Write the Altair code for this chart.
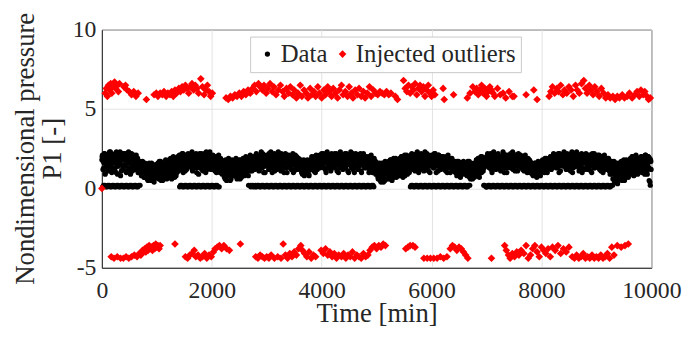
import altair as alt
import numpy as np
import pandas as pd

# ---------------- data ----------------
SAMPLE_MIN = 10  # each list is sampled every 10 min; list B is offset by 5 min

data_p1_a = [
    1.8,2.1,1.2,0.2,1.6,2.2,0.9,0.1,1.9,1.4,2.0,0.2,1.1,1.7,2.3,0.1,1.5,2.0,1.0,0.2,
    2.1,1.3,1.8,0.1,2.2,1.6,1.0,0.2,1.9,2.0,1.4,0.1,1.7,2.3,0.8,0.2,1.5,1.9,1.2,0.1,
    1.9,1.5,2.2,0.2,1.1,1.8,2.0,0.1,1.6,1.3,2.1,0.2,0.9,1.7,2.2,0.1,1.4,2.0,1.6,0.2,
    1.8,1.2,2.0,0.1,1.5,1.9,1.0,0.2,1.7,1.4,1.1,1.6,0.8,1.3,1.7,0.9,1.5,1.2,0.7,1.4,
    1.3,0.8,1.5,1.0,0.5,1.2,1.6,0.7,1.1,1.4,0.9,0.6,1.3,1.5,1.0,0.4,1.2,0.8,1.4,1.1,
    1.4,0.9,1.6,1.2,0.6,1.3,1.0,1.7,0.5,1.5,1.1,0.8,1.4,1.6,0.7,1.2,1.8,1.0,0.6,1.3,
    1.5,1.1,1.8,0.7,1.4,1.9,1.2,0.6,1.6,1.3,2.0,0.9,1.5,1.7,1.1,0.8,1.9,1.4,2.0,1.2,
    1.7,2.1,1.3,0.2,1.9,1.5,2.2,0.1,1.0,1.8,1.4,0.2,2.0,1.6,1.2,0.1,1.9,2.2,1.5,0.2,
    2.0,1.4,1.8,0.1,2.3,1.1,1.7,0.2,1.9,1.5,2.1,0.1,1.3,2.0,1.6,0.2,0.9,1.8,2.2,0.1,
    1.6,2.2,1.2,0.2,1.9,1.4,2.0,0.1,1.7,1.0,2.3,0.2,1.5,1.8,1.3,0.1,2.1,1.6,1.9,0.2,
    1.8,1.3,2.1,0.1,1.5,1.9,1.1,0.2,2.0,1.6,1.2,0.1,1.8,1.4,1.7,1.0,1.9,1.3,1.6,0.9,
    1.5,1.1,1.7,0.7,1.3,1.8,1.0,0.5,1.6,1.2,1.4,0.8,1.7,1.1,1.5,0.6,1.3,1.8,0.9,1.4,
    1.2,1.6,0.8,1.4,1.9,1.0,0.6,1.5,1.3,1.7,0.9,1.2,1.8,1.4,0.7,1.6,1.1,1.9,1.3,1.0,
    1.7,1.3,2.0,0.9,1.5,1.8,1.2,0.2,1.9,1.4,2.1,0.1,1.6,1.1,1.8,0.2,2.0,1.5,1.3,0.1,
    1.9,2.2,1.4,0.2,1.7,2.0,1.1,0.1,1.8,1.5,2.3,0.2,1.3,1.9,1.6,0.1,2.1,1.0,1.8,0.2,
    2.0,1.5,1.8,0.1,2.2,1.3,1.9,0.2,1.6,2.1,1.0,0.1,1.8,1.4,2.2,0.2,1.7,2.0,1.2,0.1,
    1.8,2.3,1.4,0.2,2.0,1.6,1.1,0.1,1.9,1.5,2.1,0.2,1.3,1.8,2.2,0.1,1.6,1.0,1.9,0.2,
    2.1,1.4,1.7,0.1,1.9,1.2,2.0,0.2,1.5,1.8,1.1,0.1,2.1,1.6,1.3,0.2,1.8,1.5,1.9,0.1,
    1.6,1.2,1.8,0.2,1.4,0.9,1.7,0.1,1.3,1.5,1.0,0.2,1.6,1.2,1.8,0.1,1.4,0.8,1.7,0.2,
    1.8,1.3,2.0,0.1,1.5,1.9,1.1,0.2,1.7,1.4,2.1,0.1,1.2,1.8,1.6,0.2,2.0,1.3,1.9,0.1,
    2.2,1.6,1.9,0.2,1.3,2.1,1.7,0.1,1.0,1.8,2.3,0.2,1.5,2.0,1.4,0.1,1.9,1.2,2.2,0.2,
    1.7,2.0,1.4,0.1,2.2,1.5,1.9,0.2,1.1,1.8,2.1,0.1,1.6,1.3,2.3,0.2,1.9,1.5,1.8,0.1,
    2.1,1.5,1.8,0.2,1.3,2.2,1.6,0.1,2.0,1.0,1.9,0.2,1.7,2.3,1.4,0.1,1.8,1.2,2.1,0.2,
    1.9,1.4,2.2,0.1,1.6,2.0,1.2,0.2,1.8,1.5,2.1,0.1,1.1,1.9,1.7,0.2,2.2,1.4,1.8,0.1,
    1.8,1.3,2.0,0.2,1.5,1.9,1.0,0.1,1.7,1.4,2.1,0.2,1.2,1.6,1.9,0.1,1.4,1.0,1.7,1.2,
    1.4,0.9,1.6,0.6,1.2,1.5,0.8,1.3,0.4,1.1,1.6,0.7,1.4,1.0,1.5,0.5,1.2,0.9,1.6,1.1,
    1.5,1.0,1.7,0.6,1.3,1.8,0.9,1.4,0.5,1.6,1.2,1.9,0.8,1.5,1.1,1.7,0.7,1.4,1.8,1.0,
    1.7,1.2,1.9,0.8,1.5,2.0,1.1,1.6,0.7,1.8,1.3,2.1,1.0,1.7,1.4,1.9,0.9,1.6,2.0,1.2,
    2.0,1.5,1.8,0.2,2.2,1.3,1.9,0.1,1.6,2.1,1.1,0.2,1.8,1.4,2.3,0.1,1.7,2.0,1.2,0.2,
    1.9,2.2,1.4,0.1,1.7,2.0,1.1,0.2,2.3,1.6,1.8,0.1,1.3,1.9,2.1,0.2,1.5,1.0,1.8,0.1,
    2.1,1.6,1.9,0.2,1.3,2.2,1.7,0.1,2.0,1.4,1.8,0.2,1.1,2.1,1.5,0.1,1.9,1.3,2.0,0.2,
    1.8,1.4,2.0,0.1,1.6,1.9,1.1,0.2,1.7,1.3,2.1,0.1,1.5,1.8,1.0,0.2,1.6,1.9,1.3,0.1,
    1.6,1.1,1.7,0.2,1.3,1.5,0.8,0.1,1.4,1.7,1.0,0.2,1.5,1.2,1.6,0.1,0.9,1.4,1.7,0.2,
    1.3,1.6,0.9,0.1,1.5,1.1,1.7,0.2,1.2,0.7,1.4,0.6,1.6,1.0,1.3,0.8,1.5,1.2,0.7,1.4,
    1.6,1.1,1.8,0.8,1.4,1.9,1.2,0.7,1.7,1.3,2.0,1.0,1.5,1.8,1.1,0.2,1.9,1.4,1.6,0.1,
    2.0,1.5,2.2,0.2,1.7,1.3,1.9,0.1,2.1,1.6,1.0,0.2,1.8,2.3,1.4,0.1,1.9,1.2,2.0,0.2,
    1.8,2.2,1.4,0.1,2.0,1.6,1.1,0.2,1.9,1.5,2.3,0.1,1.3,1.8,2.1,0.2,1.6,1.0,1.9,0.1,
    2.1,1.5,1.8,0.2,2.2,1.3,1.7,0.1,2.0,1.4,1.9,0.2,1.1,2.1,1.6,0.1,1.8,1.4,2.2,0.2,
    1.9,1.4,2.1,0.1,1.6,2.0,1.2,0.2,1.8,1.5,1.9,0.1,1.3,1.7,1.0,0.2,1.6,1.4,1.8,0.1,
    1.5,1.1,1.6,0.2,1.3,0.8,1.5,0.1,1.2,1.6,0.9,0.2,1.4,1.0,1.7,0.1,1.3,1.5,0.8,0.2,
    1.6,1.2,1.8,0.1,1.4,1.0,1.7,0.2,1.3,1.9,1.1,0.1,1.6,1.4,1.8,0.2,1.5,2.0,1.2,0.1,
    2.0,1.6,2.2,0.2,1.4,1.9,1.7,0.1,2.1,1.3,1.8,0.2,1.0,2.2,1.5,0.1,1.9,1.6,2.0,0.2,
    1.8,2.3,1.5,0.1,2.0,1.2,1.9,0.2,1.7,2.1,1.4,0.1,1.8,1.1,2.2,0.2,1.6,1.9,1.3,0.1,
    2.1,1.5,1.9,0.2,2.3,1.4,1.7,0.1,2.0,1.2,1.8,0.2,1.5,2.2,1.0,0.1,1.9,1.6,2.1,0.2,
    1.9,2.2,1.3,0.1,1.8,1.6,2.0,0.2,1.4,2.1,1.1,0.1,1.7,1.9,1.5,0.2,2.2,1.3,1.8,0.1,
    2.0,1.4,1.9,0.2,1.6,2.1,1.2,0.1,1.8,1.5,2.0,0.2,1.0,1.7,1.3,0.1,1.9,1.6,1.2,0.2,
    1.7,1.2,1.9,0.1,1.4,0.9,1.6,0.2,1.1,1.5,0.6,1.3,1.7,0.4,1.0,1.4,0.8,1.6,1.2,0.5,
    1.4,0.9,1.6,1.1,0.6,1.3,1.7,0.8,1.5,1.0,1.8,0.5,1.2,1.6,0.9,1.4,1.1,1.7,0.7,1.3,
    1.6,1.2,1.9,0.9,1.5,2.0,1.1,1.7,0.8,1.4,1.8,1.0,2.1,1.3,1.6,0.9,1.9,1.2,1.7,1.5,
    1.8,1.3,2.0,1.0,1.6,1.9,1.2,1.7,0.9,2.1,1.4,1.8,1.1,1.6,2.0,1.3,0.5,1.9,0.2,1.7,
]

data_p1_b = [
    2.0,0.1,1.7,1.3,2.2,0.2,1.0,1.8,1.5,0.1,2.1,1.2,1.9,0.2,1.6,2.3,1.3,0.1,1.8,1.1,
    1.6,0.2,2.0,1.2,1.8,0.1,2.3,1.4,0.9,0.2,1.7,2.1,1.5,0.1,1.9,1.1,2.2,0.2,1.4,1.8,
    2.2,0.1,1.4,1.8,1.0,0.2,1.9,1.6,2.3,0.1,1.2,1.7,2.0,0.2,1.5,1.1,1.8,0.1,2.1,1.3,
    1.6,0.2,2.1,1.3,1.9,0.1,1.0,1.7,1.4,0.2,1.2,1.5,0.9,1.6,1.1,1.4,0.7,1.3,1.6,1.0,
    1.1,1.4,0.6,1.2,0.9,1.5,0.7,1.3,1.0,0.5,1.6,1.2,0.8,1.4,1.1,0.6,1.3,0.9,1.5,0.7,
    1.2,0.7,1.5,1.0,1.7,0.6,1.3,0.9,1.4,1.1,0.5,1.6,1.2,0.8,1.5,1.0,1.3,0.7,1.7,1.1,
    1.3,1.7,0.9,1.5,1.1,1.8,0.8,1.4,1.9,1.0,1.6,1.3,0.7,1.7,1.2,1.9,1.0,1.5,1.8,1.1,
    1.9,0.1,1.5,2.0,1.2,0.2,1.7,2.2,1.4,0.1,1.8,1.1,2.1,0.2,1.6,1.3,2.0,0.1,1.7,1.4,
    1.5,0.2,2.1,1.7,1.2,0.1,2.0,1.6,1.9,0.2,1.4,2.2,1.0,0.1,1.8,1.5,2.1,0.2,1.3,1.7,
    2.0,0.1,1.5,1.8,1.1,0.2,2.2,1.4,1.9,0.1,1.6,1.2,2.0,0.2,1.8,1.4,2.3,0.1,1.2,1.7,
    1.6,0.2,1.9,1.2,2.0,0.1,1.4,1.7,1.0,0.2,1.8,1.5,2.1,0.1,1.3,1.6,1.1,1.8,1.4,1.0,
    1.3,1.6,0.9,1.4,0.6,1.7,1.2,1.5,0.8,1.3,1.9,1.0,1.6,0.5,1.4,1.1,1.7,0.8,1.5,1.2,
    1.5,0.9,1.3,1.7,1.1,0.7,1.6,1.2,1.8,1.0,1.4,0.6,1.5,1.1,1.7,0.9,1.4,1.2,1.6,0.8,
    1.4,1.8,1.0,1.6,1.2,1.9,0.8,1.5,1.7,1.1,2.0,0.2,1.6,1.3,1.9,0.1,1.4,1.8,1.2,0.2,
    1.6,0.1,2.0,1.4,1.8,0.2,1.2,2.1,1.7,0.1,1.9,1.5,2.2,0.2,1.0,1.8,1.4,0.1,2.0,1.6,
    1.7,0.2,2.1,1.2,1.9,0.1,1.5,2.3,1.3,0.2,1.8,1.6,2.0,0.1,1.1,1.9,1.5,0.2,2.1,1.4,
    2.0,0.1,1.5,1.9,1.2,0.2,2.2,1.7,1.4,0.1,2.0,1.0,1.8,0.2,1.6,2.1,1.3,0.1,1.9,1.5,
    1.6,0.2,2.0,1.3,1.8,0.1,1.5,2.2,1.0,0.2,1.7,1.9,1.4,0.1,2.0,1.2,1.6,0.2,1.8,1.3,
    1.4,0.1,1.7,1.0,1.5,0.2,1.2,1.8,0.8,0.1,1.6,1.3,1.1,0.2,1.7,1.4,0.9,0.1,1.5,1.2,
    1.6,0.2,1.9,1.2,1.7,0.1,2.0,1.4,1.0,0.2,1.8,1.5,1.3,0.1,1.9,1.6,2.1,0.2,1.4,1.7,
    1.9,0.1,1.4,2.2,1.7,0.2,1.2,2.0,1.6,0.1,1.9,1.3,2.1,0.2,1.5,1.8,1.1,0.1,2.0,1.6,
    2.1,0.2,1.6,1.9,1.3,0.1,2.2,1.5,1.8,0.2,1.0,2.0,1.7,0.1,1.4,2.1,1.6,0.2,1.2,1.9,
    1.8,0.1,2.2,1.4,1.9,0.2,1.6,1.1,2.1,0.1,1.5,1.8,2.0,0.2,1.3,1.7,2.2,0.1,1.5,1.0,
    2.0,0.2,1.6,1.9,1.3,0.1,2.1,1.7,1.4,0.2,2.2,1.5,1.0,0.1,1.8,2.0,1.6,0.2,1.3,1.9,
    1.6,0.1,1.9,1.3,1.7,0.2,2.0,1.1,1.5,0.1,1.8,1.4,1.0,0.2,1.7,1.9,1.2,1.5,0.9,1.6,
    1.2,1.5,0.7,1.3,1.0,1.6,0.5,1.4,1.1,0.8,1.5,1.2,0.4,1.3,0.9,1.7,1.0,1.4,0.6,1.2,
    1.3,1.6,0.8,1.5,1.1,1.8,0.6,1.4,1.0,1.7,1.2,0.7,1.6,1.3,1.9,0.9,1.5,1.1,1.7,0.8,
    1.5,1.8,1.0,1.6,1.3,2.0,0.9,1.7,1.2,1.9,1.4,0.8,1.8,1.5,2.1,1.1,1.7,1.3,1.9,1.0,
    1.7,0.1,2.1,1.4,1.9,0.2,1.2,2.0,1.6,0.1,1.8,1.3,2.2,0.2,1.5,1.9,1.0,0.1,2.1,1.6,
    2.1,0.2,1.6,1.8,1.2,0.1,2.0,1.5,1.9,0.2,1.4,2.2,1.7,0.1,1.1,1.8,2.0,0.2,1.4,1.7,
    1.8,0.1,2.0,1.3,1.7,0.2,2.2,1.5,1.0,0.1,1.9,1.6,2.1,0.2,1.4,1.8,1.2,0.1,2.0,1.5,
    1.6,0.2,1.9,1.2,1.8,0.1,1.4,2.0,1.0,0.2,1.7,1.5,1.9,0.1,1.3,1.6,1.8,0.2,1.1,1.5,
    1.4,0.1,1.6,1.0,1.3,0.2,1.7,0.9,1.5,0.1,1.2,1.6,0.7,0.2,1.4,1.1,1.5,0.1,1.0,1.3,
    1.5,0.2,1.2,1.6,0.8,0.1,1.4,1.0,1.7,0.2,1.3,0.9,1.5,1.1,0.6,1.4,1.2,1.6,0.9,1.3,
    1.4,1.8,1.0,1.6,1.3,1.9,0.9,1.5,1.2,1.7,1.4,2.0,1.1,1.6,1.8,1.3,0.2,1.7,1.5,0.1,
    1.8,0.1,2.1,1.4,1.9,0.2,1.6,2.2,1.2,0.1,2.0,1.5,1.8,0.2,1.3,2.1,1.7,0.1,1.5,1.9,
    2.1,0.2,1.5,1.9,1.2,0.1,2.0,1.7,1.4,0.2,2.2,1.6,1.0,0.1,1.9,1.5,2.1,0.2,1.3,1.8,
    1.7,0.1,2.0,1.3,1.9,0.2,1.5,2.3,1.2,0.1,1.8,1.6,2.1,0.2,1.4,1.9,1.1,0.1,2.0,1.6,
    1.6,0.2,1.9,1.3,2.0,0.1,1.5,1.8,1.1,0.2,2.1,1.4,1.7,0.1,1.2,1.9,1.5,0.2,1.0,1.7,
    1.3,0.1,1.5,0.9,1.4,0.2,1.1,1.6,1.0,0.1,1.3,0.7,1.5,0.2,1.2,1.4,0.9,0.1,1.6,1.1,
    1.4,0.2,1.7,1.1,1.5,0.1,1.9,1.2,1.6,0.2,1.0,1.8,1.3,0.1,1.7,1.5,2.0,0.2,1.3,1.6,
    1.8,0.1,2.1,1.5,1.9,0.2,1.3,2.0,1.7,0.1,2.2,1.4,1.8,0.2,1.1,2.0,1.6,0.1,1.9,1.4,
    2.1,0.2,1.6,1.9,1.3,0.1,2.2,1.5,1.8,0.2,1.2,2.0,1.7,0.1,1.5,2.3,1.0,0.2,1.8,1.4,
    1.7,0.1,2.0,1.4,2.2,0.2,1.6,1.9,1.1,0.1,2.1,1.5,1.8,0.2,1.3,2.0,1.7,0.1,1.2,1.9,
    2.0,0.2,1.5,1.9,1.2,0.1,2.1,1.7,1.4,0.2,1.9,1.0,2.2,0.1,1.6,1.8,1.3,0.2,2.0,1.5,
    1.7,0.1,2.1,1.3,1.8,0.2,1.5,2.0,1.1,0.1,1.9,1.6,1.4,0.2,2.1,1.2,1.7,0.1,1.5,1.9,
    1.5,0.2,1.8,1.1,1.6,0.1,1.3,1.7,0.9,0.2,1.4,1.0,1.6,0.5,1.2,0.7,1.5,1.1,0.3,1.3,
    1.2,1.6,0.7,1.4,1.0,1.7,0.5,1.3,0.9,1.5,1.1,0.6,1.6,1.2,1.8,0.8,1.4,1.0,1.5,0.9,
    1.4,1.8,1.0,1.7,1.3,2.0,1.1,1.5,1.9,0.9,1.6,1.3,2.0,1.2,1.8,1.0,1.5,1.7,1.1,1.9,
    1.6,2.0,1.1,1.8,1.4,1.9,1.0,1.7,1.5,2.1,1.2,1.8,0.9,1.5,2.0,1.3,1.7,0.4,1.8,1.2,
]
data_time_a = np.arange(len(data_p1_a)) * SAMPLE_MIN
data_time_b = np.arange(len(data_p1_b)) * SAMPLE_MIN + SAMPLE_MIN // 2

outliers_high = [
    (60,6.0),(80,6.3),(100,5.8),(120,6.5),(140,6.2),(160,6.6),(180,6.0),(200,6.4),(230,6.7),
    (250,6.3),(280,6.5),(300,6.1),(320,6.6),(400,6.4),(430,6.5),(460,6.2),(500,6.1),(540,5.9),
    (580,6.1),(620,5.8),(660,6.0),(810,5.6),
    (950,5.9),(990,6.0),(1020,5.8),(1060,6.0),(1100,5.9),(1130,6.1),(1170,5.8),(1200,6.0),
    (1240,5.9),(1270,6.1),(1300,5.8),(1330,6.2),(1360,6.0),(1400,6.3),(1430,6.1),(1460,6.4),
    (1490,6.2),(1520,6.5),(1550,6.3),(1580,6.0),(1610,6.4),(1640,6.6),(1670,6.2),(1700,6.5),
    (1730,6.3),(1760,6.0),(1800,6.9),(1830,6.4),(1860,5.9),(1890,6.2),(1920,6.5),(1950,6.1),
    (1980,5.8),(2010,6.0),
    (2260,5.7),(2300,5.6),(2340,5.8),(2380,5.7),(2420,5.9),(2460,5.8),(2500,6.0),(2540,5.8),
    (2580,6.1),(2620,5.9),(2660,6.2),(2700,6.0),(2740,6.3),(2780,6.5),(2810,6.1),(2850,6.6),
    (2880,6.4),(2920,6.2),(2950,6.5),(2990,6.0),(3020,6.3),(3060,6.6),(3100,6.1),(3130,6.4),
    (3170,5.9),(3210,6.2),(3250,6.5),(3290,6.1),(3320,5.8),(3360,6.3),(3400,6.0),(3430,6.4),
    (3470,5.9),(3500,6.2),(3540,5.7),(3570,6.0),(3610,6.5),(3640,5.8),(3680,6.2),(3720,6.0),
    (3750,5.7),(3790,6.3),(3820,5.9),(3860,6.1),(3890,5.8),(3930,6.4),(3960,6.0),(4000,5.7),
    (4040,6.2),(4070,5.9),(4110,6.4),(4140,6.1),(4180,5.8),(4210,6.3),(4250,6.0),(4290,5.7),
    (4320,6.2),(4360,6.5),(4390,5.9),(4430,6.1),(4470,5.8),(4500,6.4),(4540,6.0),(4570,5.7),
    (4610,6.2),(4650,5.9),(4680,6.3),(4720,5.8),(4760,6.1),(4790,5.7),(4830,6.0),(4870,6.4),
    (4900,5.8),(4940,6.2),(4980,6.0),(5020,5.9),(5060,6.1),(5100,6.0),(5140,5.9),(5180,6.1),
    (5220,5.9),(5260,6.0),(5340,5.8),(5380,5.6),
    (5490,6.8),(5520,6.3),(5550,6.1),(5580,6.5),(5610,6.0),(5640,6.4),(5670,6.2),(5700,6.6),
    (5730,5.9),(5760,6.3),(5790,6.5),(5820,6.1),(5850,6.4),(5880,5.8),(5910,6.2),(5940,6.5),
    (5970,6.0),(6000,5.8),(6030,6.2),(6060,5.9),(6210,6.3),(6230,5.6),(6400,5.9),
    (6650,5.7),(6700,6.0),(6750,6.4),(6790,6.1),(6820,6.3),(6850,5.9),(6880,6.2),(6910,6.5),
    (6940,6.0),(6970,6.3),(7000,5.8),(7030,6.1),(7060,6.4),(7090,6.2),(7120,6.0),(7150,5.8),
    (7200,6.3),(7250,5.9),(7300,6.0),(7350,5.7),(7410,6.1),(7470,5.8),(7500,5.8),
    (7720,5.9),(7860,6.2),(7920,5.6),
    (8140,5.8),(8170,6.1),(8200,6.4),(8240,6.0),(8280,6.3),(8310,6.1),(8350,6.5),(8390,5.9),
    (8420,6.2),(8460,6.0),(8500,6.4),(8540,6.2),(8580,5.8),(8620,6.5),(8650,6.2),(8690,6.0),
    (8730,6.6),(8770,6.8),(8800,6.3),(8830,6.0),(8870,6.5),(8900,6.2),(8940,5.9),(8970,6.4),
    (9010,6.1),(9050,5.8),(9090,6.3),(9130,6.0),(9170,5.7),(9210,5.9),(9250,5.7),(9300,5.8),
    (9340,5.6),(9380,5.8),(9420,5.7),(9470,5.9),(9510,5.7),(9560,5.8),(9600,6.0),(9650,5.7),
    (9700,5.9),(9740,6.1),(9780,5.8),(9810,6.2),(9850,5.9),(9880,6.1),(9920,5.8),(9950,5.6),
    (9980,5.7),
]

outliers_low = [
    (0,0.0),
    (170,-4.3),(220,-4.4),(280,-4.3),(340,-4.4),(390,-4.4),(440,-4.3),(490,-4.4),(540,-4.3),
    (590,-4.2),(640,-4.3),(680,-4.1),(710,-4.2),(740,-3.9),(760,-4.0),(780,-3.8),(800,-4.0),
    (820,-3.7),(840,-3.9),(860,-3.6),(880,-3.8),(900,-3.7),(920,-3.9),(940,-3.6),(960,-3.8),
    (980,-3.5),(1000,-3.7),(1020,-3.6),(1040,-3.8),(1060,-3.6),(1330,-3.5),
    (1520,-4.3),(1560,-4.4),(1600,-4.2),(1640,-4.1),(1680,-3.9),(1710,-4.3),(1750,-4.2),
    (1790,-4.4),(1830,-4.3),(1870,-4.1),(1910,-4.4),(1950,-4.2),(1990,-4.3),(2030,-4.0),
    (2060,-3.8),(2100,-3.7),(2140,-3.6),(2180,-3.8),(2220,-3.6),(2270,-3.8),(2320,-3.9),
    (2520,-3.5),
    (2800,-4.3),(2840,-4.4),(2880,-4.2),(2920,-4.3),(2960,-4.4),(3000,-4.3),(3040,-4.4),
    (3080,-4.2),(3140,-4.4),(3200,-4.3),(3260,-4.4),(3300,-3.5),(3340,-4.2),(3380,-4.4),
    (3420,-4.1),(3460,-4.3),(3500,-4.0),(3540,-4.2),(3580,-3.8),(3620,-3.6),(3650,-3.9),
    (3690,-4.1),(3730,-4.3),(3770,-4.0),(3810,-4.4),(3850,-4.2),(3890,-4.3),
    (3990,-3.9),(4030,-4.1),(4070,-3.8),(4110,-4.2),(4150,-4.0),(4190,-4.3),(4230,-4.1),
    (4270,-4.4),(4310,-4.2),(4360,-4.3),(4400,-4.1),(4440,-4.4),(4480,-4.2),(4520,-4.3),
    (4560,-4.0),(4600,-4.4),(4640,-4.2),(4680,-4.3),(4720,-4.4),(4760,-4.1),(4800,-4.3),
    (4840,-4.2),(4880,-3.9),(4920,-3.7),(4960,-3.6),(5000,-3.8),(5040,-3.6),(5080,-3.7),
    (5120,-3.5),(5160,-3.6),
    (5530,-3.8),(5570,-3.7),(5610,-3.6),(5660,-3.6),(5700,-3.7),
    (5860,-4.4),(5920,-4.4),(5980,-4.4),(6040,-4.4),(6100,-4.4),(6160,-4.3),(6220,-4.4),
    (6280,-4.3),(6340,-3.8),(6380,-3.6),(6420,-3.7),(6460,-3.9),(6500,-3.7),(6540,-3.8),
    (6580,-4.0),(6620,-4.2),(6660,-4.4),(7090,-4.4),
    (7330,-3.6),(7360,-3.9),(7400,-4.2),(7430,-4.4),(7470,-4.1),(7510,-4.3),(7550,-4.0),
    (7590,-4.2),(7630,-3.9),(7680,-4.1),(7720,-3.6),(7760,-4.4),(7800,-4.2),(7840,-3.8),
    (7880,-3.6),(7920,-4.0),(7960,-4.3),(8000,-3.7),(8040,-3.9),(8080,-4.1),(8120,-3.8),
    (8160,-4.3),(8200,-3.7),(8250,-3.9),(8300,-3.6),(8350,-4.1),(8400,-3.8),(8450,-4.0),
    (8500,-3.7),(8560,-4.3),(8600,-4.4),(8640,-4.2),(8680,-4.4),(8720,-4.3),(8760,-4.1),
    (8800,-4.4),(8840,-4.3),(8880,-4.4),(8920,-4.2),(8960,-4.4),(9000,-4.3),(9040,-4.4),
    (9080,-4.2),(9120,-4.4),(9160,-4.3),(9200,-4.1),(9240,-4.4),(9280,-3.7),(9320,-4.2),
    (9380,-3.6),(9450,-3.7),(9520,-3.6),(9580,-3.5),
]

series_names = ["Data", "Injected outliers"]
x_ticks = [0, 2000, 4000, 6000, 8000, 10000]
y_ticks = [-5, 0, 5, 10]

# ---------------- table ----------------
df_a = pd.DataFrame({"t": data_time_a, "p": data_p1_a, "series": series_names[0]})
df_b = pd.DataFrame({"t": data_time_b, "p": data_p1_b, "series": series_names[0]})
out = outliers_high + outliers_low
df_out = pd.DataFrame({"t": [o[0] for o in out], "p": [o[1] for o in out],
                       "series": series_names[1]})
df = pd.concat([df_a, df_b, df_out], ignore_index=True)

FONT = "Liberation Serif"
TXT = "#262626"

leg = dict(title=None, orient="none", direction="horizontal", legendX=150, legendY=7,
           labelFont=FONT, labelFontSize=25, labelColor=TXT, labelLimit=400)

chart = alt.Chart(df).mark_point(filled=True, opacity=1, strokeWidth=0).encode(
    x=alt.X("t:Q", scale=alt.Scale(domain=[0, 10000], nice=False),
            axis=alt.Axis(values=x_ticks, title="Time [min]",
                          labelExpr="'' + datum.value",
                          labelFont=FONT, titleFont=FONT,
                          labelBaseline="alphabetic", labelPadding=30,
                          titleY=54, titleBaseline="alphabetic")),
    y=alt.Y("p:Q", scale=alt.Scale(domain=[-5, 10], nice=False),
            axis=alt.Axis(values=y_ticks, title=["Nondimensional pressure", "P1 [-]"],
                          labelExpr="'' + datum.value", labelPadding=6,
                          labelFont=FONT, titleFont=FONT,
                          titleX=-69, titleY=120, titleAngle=-90,
                          titleBaseline="alphabetic", titleAlign="center",
                          titleLineHeight=27)),
    color=alt.Color("series:N", scale=alt.Scale(domain=series_names, range=["#000000", "#ff0000"]),
                    legend=alt.Legend(**leg)),
    shape=alt.Shape("series:N", scale=alt.Scale(domain=series_names, range=["circle", "diamond"]),
                    legend=alt.Legend(**leg)),
    size=alt.Size("series:N", scale=alt.Scale(domain=series_names, range=[28, 60]),
                  legend=alt.Legend(**leg)),
    order=alt.Order("series:N"),
).properties(
    width=556, height=241,
    autosize=alt.AutoSizeParams(type="none"),
    padding={"left": 95, "top": 20, "right": 31, "bottom": 60},
).configure(
    font=FONT
).configure_view(
    stroke=TXT, strokeWidth=1
).configure_axis(
    labelFont=FONT, titleFont=FONT, labelFontSize=24, titleFontSize=27,
    labelColor=TXT, titleColor=TXT, titleFontWeight="normal",
    domainColor=TXT, ticks=False, grid=True, gridColor="#e3e3e3",
    labelOverlap=False, labelFlush=False, labelBound=False,
).configure_legend(
    labelFont=FONT, labelFontSize=25, labelColor=TXT, labelLimit=400,
    fillColor="#ffffff", strokeColor="#c8c8c8", padding=5,
    columnPadding=2, labelOffset=1, symbolStrokeWidth=0,
)

chart.save("out.html", embed_options={"renderer": "svg", "actions": False})
